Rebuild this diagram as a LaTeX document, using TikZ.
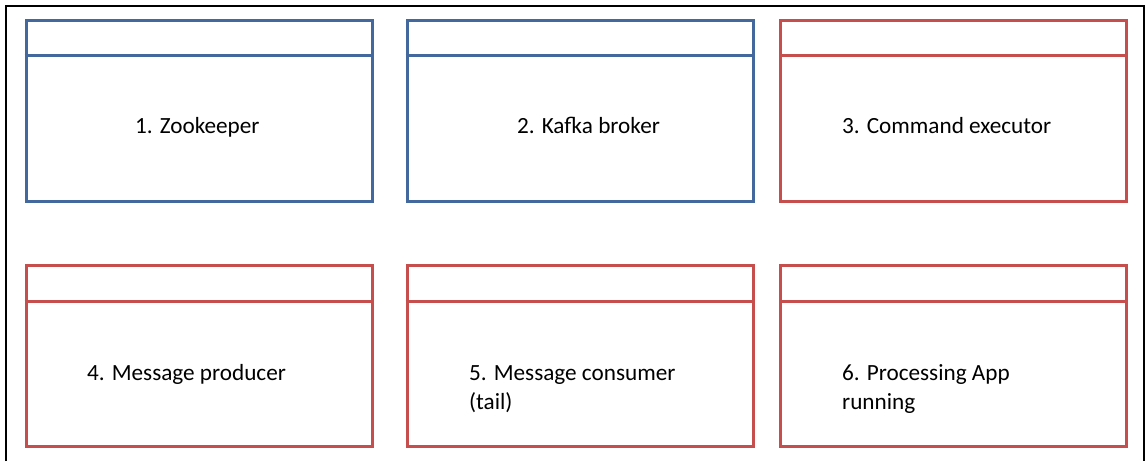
\documentclass[tikz,border=0pt]{standalone}
\usepackage{fontspec}
\setmainfont{Carlito}
\usepackage{xcolor}
\definecolor{panelblue}{RGB}{66,104,158}
\definecolor{panelred}{RGB}{198,78,76}
\tikzset{
  panel/.style={draw, line width=3pt, minimum width=346pt, minimum height=181pt, inner sep=0pt},
  label/.style={anchor=base west, align=left, inner sep=0pt, font=\fontsize{23.2}{29}\selectfont}
}

\begin{document}
\begin{tikzpicture}[x=1pt, y=-1pt]
                \useasboundingbox (0, 0) rectangle (1147, 461);

                % Outer frame (open at the bottom)
                \draw[line width=2.5pt] (6, 461) -- (6, 6) -- (1144, 6) -- (1144, 461);

                % Top row
                \node[panel, panelblue] (zookeeper) at (199, 110.5) {};
                \node[panel, panelblue] (broker) at (580, 110.5) {};
                \node[panel, panelred] (executor) at (953.5, 110.5) {};

                % Bottom row
                \node[panel, panelred] (producer) at (199, 356) {};
                \node[panel, panelred] (consumer) at (580, 356) {};
                \node[panel, panelred] (app) at (953.5, 356) {};

                % Header bars
                \draw[line width=3pt, panelblue] ([yshift=-37pt]zookeeper.north west) -- ([yshift=-37pt]zookeeper.north east);
                \draw[line width=3pt, panelblue] ([yshift=-37pt]broker.north west) -- ([yshift=-37pt]broker.north east);
                \draw[line width=3pt, panelred] ([yshift=-37pt]executor.north west) -- ([yshift=-37pt]executor.north east);
                \draw[line width=3pt, panelred] ([yshift=-37pt]producer.north west) -- ([yshift=-37pt]producer.north east);
                \draw[line width=3pt, panelred] ([yshift=-37pt]consumer.north west) -- ([yshift=-37pt]consumer.north east);
                \draw[line width=3pt, panelred] ([yshift=-37pt]app.north west) -- ([yshift=-37pt]app.north east);

                % Labels (two-line labels sit on their last baseline)
                \node[label] (zookeepertext) at (135, 133) {1. Zookeeper};
                \node[label] (brokertext) at (517, 133) {2. Kafka broker};
                \node[label] (executortext) at (842, 133) {3. Command executor};
                \node[label] (producertext) at (87, 380) {4. Message producer};
                \node[label] (consumertext) at (469, 409) {5. Message consumer\\(tail)};
                \node[label] (apptext) at (842, 409) {6. Processing App\\running};
            \end{tikzpicture}
\end{document}
